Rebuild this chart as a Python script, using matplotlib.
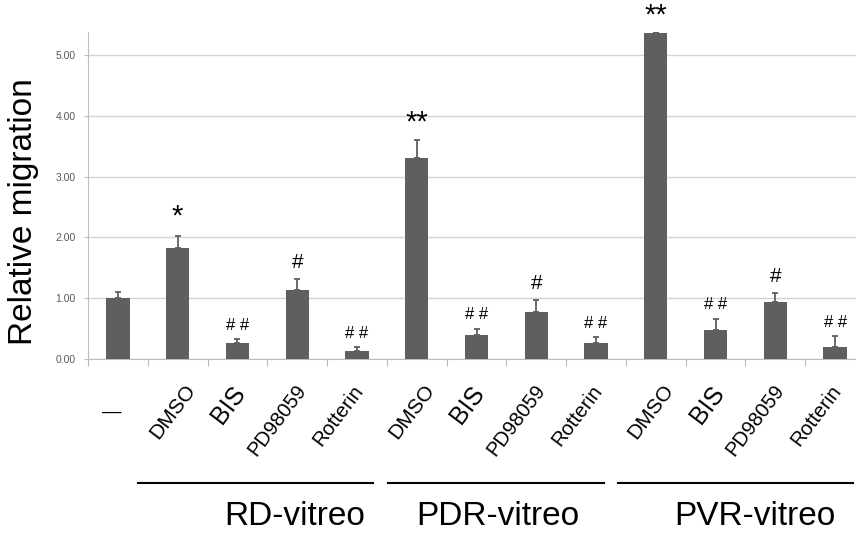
import matplotlib.pyplot as plt
from matplotlib.transforms import blended_transform_factory

plt.rcParams['font.family'] = ['Liberation Sans', 'DejaVu Sans']

# data
treatments = ['—', 'DMSO', 'BIS', 'PD98059', 'Rotterin',
              'DMSO', 'BIS', 'PD98059', 'Rotterin',
              'DMSO', 'BIS', 'PD98059', 'Rotterin']
migration = [1.00, 1.82, 0.27, 1.13, 0.13,
             3.31, 0.39, 0.78, 0.26,
             5.36, 0.47, 0.93, 0.20]
sem = [0.10, 0.20, 0.06, 0.19, 0.06,
       0.30, 0.11, 0.19, 0.10,
       0.02, 0.19, 0.16, 0.18]
marks = ['', '*', '# #', '#', '# #',
         '**', '# #', '#', '# #',
         '**', '# #', '#', '# #']
groups = ['RD-vitreo', 'PDR-vitreo', 'PVR-vitreo']
yticks = [0, 1, 2, 3, 4, 5]

# layout
label_size = {'—': 14, 'DMSO': 15, 'BIS': 18, 'PD98059': 14.5, 'Rotterin': 14.5}
label_shift = {'DMSO': 0.36, 'BIS': 0.22, 'PD98059': 0.22, 'Rotterin': 0.17}
mark_size = {'*': 21, '**': 21, '#': 15, '# #': 12}
mark_gap = {'*': 14, '**': 12, '#': 12, '# #': 10}
group_lines = [(0.34, 4.27), (4.52, 8.14), (8.37, 12.30)]
group_centers = [2.96, 6.35, 10.66]

bar_color = '#5f5f5f'
grid_color = '#d4d4d4'

fig = plt.figure(figsize=(8.56, 5.36), dpi=100)
ax = fig.add_axes([88 / 856, 1 - 359 / 536, 777 / 856, 327 / 536])

x = list(range(len(treatments)))
ax.bar(x, migration, width=0.39, color=bar_color, zorder=3)
ax.errorbar(x, migration, yerr=[[0] * len(sem), sem], fmt='none',
            ecolor=bar_color, elinewidth=1.3, capsize=2.5, capthick=1.3, zorder=3)

ax.set_xlim(-0.5, 12.5)
ax.set_ylim(0, 5.38)
ax.set_yticks(yticks)
ax.set_yticklabels([f'{v:.2f}' for v in yticks], fontsize=7.5, color='#595959')
ax.yaxis.grid(True, color=grid_color, linewidth=1.0, zorder=0)
ax.tick_params(axis='y', length=3, color='#bbbbbb', pad=6)

for s in ['top', 'right']:
    ax.spines[s].set_visible(False)
ax.spines['left'].set_color('#bbbbbb')
ax.spines['bottom'].set_color('#bbbbbb')

ax.set_xticks([i - 0.5 for i in x] + [12.5])
ax.set_xticklabels([])
ax.tick_params(axis='x', length=5, color='#bbbbbb')

fig.text(24 / 856, 1 - 212 / 536, 'Relative migration', rotation=90,
         ha='center', va='center', fontsize=24)

trans = blended_transform_factory(ax.transData, ax.transAxes)
for i, name in enumerate(treatments):
    if name == '—':
        ax.text(i - 0.1, -0.162, name, transform=trans, ha='center', va='center',
                fontsize=label_size[name], clip_on=False)
    else:
        ax.text(i + label_shift[name], -0.068, name, transform=trans, ha='right',
                va='top', rotation=53, fontsize=label_size[name], clip_on=False)

for i, m in enumerate(marks):
    if m:
        ax.annotate(m, xy=(i, migration[i] + sem[i]), xytext=(0, mark_gap[m]),
                    textcoords='offset points', ha='center', va='center',
                    fontsize=mark_size[m], annotation_clip=False)

for (a, b), c, g in zip(group_lines, group_centers, groups):
    ax.plot([a, b], [-0.379, -0.379], transform=trans, color='black',
            linewidth=1.5, clip_on=False)
    ax.text(c, -0.483, g, transform=trans, ha='center', va='center',
            fontsize=24, clip_on=False)

fig.savefig('out.png', dpi=100)
